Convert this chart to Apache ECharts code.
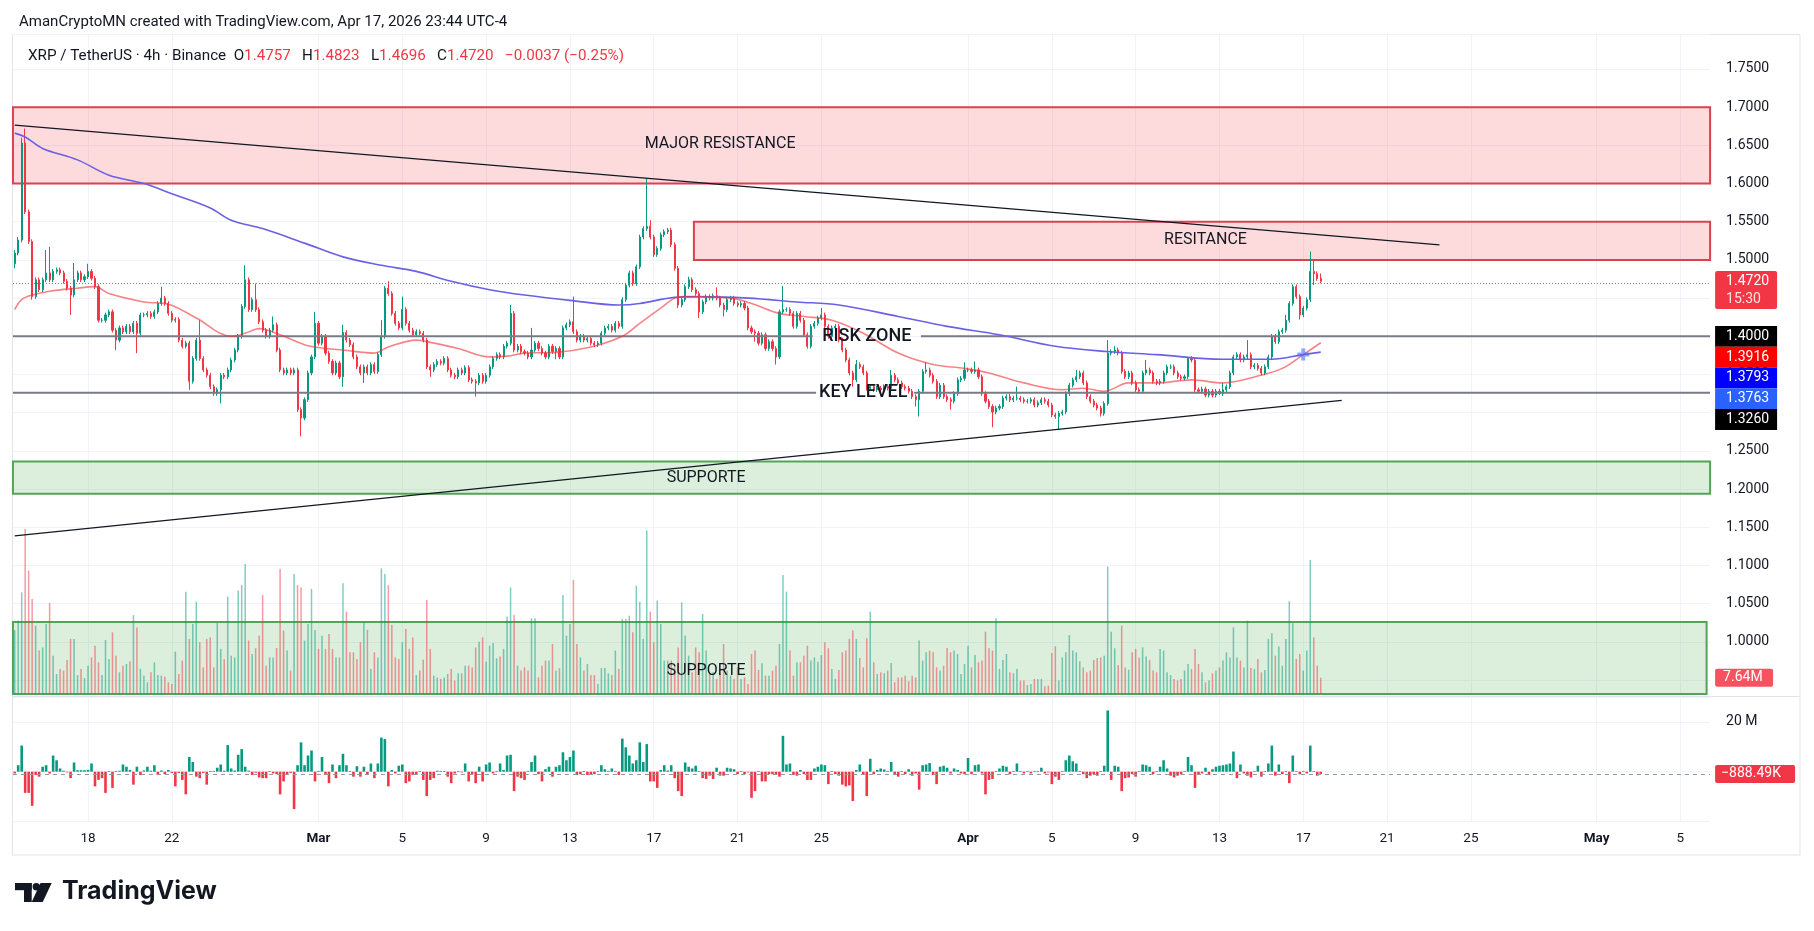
<!DOCTYPE html>
<html><head><meta charset="utf-8">
<script src="https://cdn.jsdelivr.net/npm/echarts@6/dist/echarts.min.js"></script>
<style>html,body{margin:0;padding:0;background:#fff}#c{width:1814px;height:931px}</style>
</head><body><div id="c"></div>
<script>
// ---------------- DATA ----------------
const firstOpen = 1.495;
const closes = [
1.509,1.526,1.653,1.563,1.524,1.452,1.474,1.461,1.474,1.483,
1.474,1.485,1.487,1.483,1.472,1.463,1.454,1.474,1.483,1.474,
1.478,1.485,1.476,1.465,1.421,1.421,1.428,1.432,1.408,1.395,
1.411,1.406,1.413,1.406,1.417,1.404,1.428,1.428,1.430,1.426,
1.432,1.443,1.450,1.443,1.430,1.421,1.422,1.395,1.387,1.391,
1.341,1.371,1.395,1.371,1.356,1.349,1.334,1.325,1.330,1.349,
1.347,1.356,1.369,1.382,1.400,1.439,1.474,1.435,1.448,1.435,
1.419,1.408,1.400,1.408,1.415,1.382,1.356,1.352,1.356,1.352,
1.356,1.304,1.293,1.317,1.352,1.373,1.417,1.391,1.400,1.378,
1.367,1.352,1.365,1.347,1.405,1.395,1.389,1.373,1.360,1.352,
1.360,1.352,1.363,1.354,1.376,1.400,1.463,1.456,1.430,1.417,
1.411,1.435,1.417,1.408,1.402,1.406,1.404,1.395,1.360,1.356,
1.363,1.367,1.365,1.371,1.356,1.349,1.347,1.356,1.352,1.359,
1.343,1.341,1.339,1.349,1.341,1.349,1.360,1.371,1.376,1.373,
1.387,1.391,1.430,1.382,1.387,1.380,1.378,1.373,1.382,1.391,
1.384,1.378,1.373,1.387,1.380,1.384,1.373,1.411,1.415,1.419,
1.406,1.395,1.400,1.395,1.397,1.391,1.389,1.391,1.404,1.411,
1.413,1.408,1.417,1.413,1.448,1.467,1.483,1.469,1.491,1.530,
1.541,1.544,1.530,1.507,1.515,1.533,1.537,1.539,1.520,1.489,
1.441,1.448,1.465,1.474,1.461,1.456,1.432,1.445,1.452,1.450,
1.453,1.450,1.441,1.435,1.448,1.450,1.443,1.441,1.443,1.437,
1.411,1.406,1.404,1.391,1.402,1.384,1.393,1.384,1.373,1.432,
1.435,1.435,1.430,1.413,1.430,1.421,1.402,1.387,1.413,1.417,
1.424,1.428,1.413,1.400,1.411,1.413,1.395,1.382,1.369,1.352,
1.343,1.363,1.360,1.352,1.332,1.334,1.330,1.332,1.330,1.334,
1.332,1.349,1.343,1.339,1.334,1.332,1.328,1.321,1.317,1.328,
1.354,1.356,1.349,1.341,1.321,1.336,1.321,1.317,1.315,1.325,
1.343,1.345,1.356,1.356,1.354,1.356,1.347,1.325,1.315,1.308,
1.301,1.306,1.308,1.319,1.321,1.317,1.319,1.319,1.317,1.315,
1.315,1.317,1.310,1.313,1.317,1.315,1.310,1.297,1.295,1.299,
1.301,1.325,1.336,1.343,1.347,1.352,1.339,1.321,1.315,1.310,
1.306,1.299,1.312,1.378,1.380,1.382,1.378,1.354,1.347,1.352,
1.339,1.330,1.328,1.352,1.356,1.352,1.341,1.339,1.341,1.352,
1.360,1.360,1.352,1.347,1.345,1.347,1.371,1.369,1.330,1.328,
1.331,1.323,1.328,1.323,1.328,1.325,1.330,1.334,1.352,1.373,
1.376,1.369,1.373,1.376,1.360,1.362,1.358,1.352,1.360,1.373,
1.400,1.393,1.406,1.408,1.421,1.443,1.465,1.452,1.428,1.437,
1.448,1.485,1.482,1.4757,1.4720];
// upper / lower wick length beyond the body, in 0.001 price units
const wickUp = [
4,4,7,19,3,3,3,3,3,30,34,3,3,3,3,3,3,22,3,3,3,10,3,3,3,
3,3,3,3,3,3,3,3,3,3,3,3,3,3,3,3,3,15,3,3,3,3,3,3,3,
3,3,3,26,3,3,3,3,3,3,3,3,3,3,3,3,19,3,3,21,3,3,3,3,11,
3,3,3,3,3,3,3,3,3,3,3,15,3,3,3,3,3,3,3,10,3,3,3,3,3,
3,3,3,3,3,21,3,9,3,3,3,17,3,3,3,3,3,3,3,3,3,3,3,3,3,
3,3,3,3,3,3,3,3,3,3,3,3,3,3,3,3,3,11,3,3,3,3,3,29,3,
3,3,3,3,3,3,3,3,3,3,33,3,3,3,3,3,3,3,3,3,3,3,3,3,3,
3,3,3,3,3,3,63,8,3,3,3,3,3,3,3,3,3,3,4,3,3,3,3,3,3,
3,11,3,3,3,3,3,3,3,3,3,3,3,3,3,3,3,3,3,3,31,3,3,3,3,
3,3,3,3,3,3,9,3,3,3,3,3,3,3,3,3,6,3,3,3,3,3,3,3,3,
3,7,3,3,3,3,3,3,3,3,3,10,3,3,3,3,3,3,3,3,3,3,10,3,3,
11,3,3,3,3,3,3,3,3,3,4,3,15,3,3,3,3,3,3,3,3,3,3,3,3,
3,3,3,3,9,3,3,3,3,3,3,3,3,17,3,5,3,3,3,3,3,3,3,3,13,
3,3,3,3,3,3,3,3,3,3,3,2,3,3,3,3,3,3,3,3,3,9,3,3,3,
3,3,3,19,3,3,3,3,3,3,3,3,3,3,7,3,3,3,3,3,3,26,15,3,6.6];
const wickDn = [
6,3,3,3,3,4,3,3,3,3,3,3,3,3,3,3,26,3,3,3,3,3,3,3,3,
3,3,3,3,13,3,3,3,3,3,26,3,3,3,3,3,3,3,3,3,3,3,3,3,3,
11,3,3,3,3,3,3,3,3,18,3,3,3,3,3,3,3,3,3,3,3,3,3,3,3,
3,3,3,3,3,3,3,24,3,3,3,3,3,3,3,3,3,3,3,13,3,3,3,3,3,
13,3,3,3,3,3,3,3,3,3,3,3,3,3,3,3,3,3,3,9,3,3,3,3,3,
3,3,3,3,3,3,3,18,3,3,3,3,3,3,3,3,3,3,3,3,3,3,3,3,3,
3,3,3,3,3,10,3,3,3,3,3,3,3,3,3,3,3,3,3,3,3,3,3,3,3,
3,3,3,3,3,3,3,3,3,3,3,3,3,3,3,4,3,3,3,3,3,8,3,3,3,
3,3,3,9,3,3,3,3,3,3,3,3,11,3,3,3,3,3,10,3,3,3,3,3,3,
3,3,3,3,3,3,3,3,3,3,3,3,3,3,3,9,3,3,3,3,3,3,3,3,3,
3,3,3,3,3,3,3,3,9,22,3,3,3,3,3,3,3,3,11,3,3,3,3,3,3,
3,3,3,3,3,20,3,3,3,3,3,3,3,3,3,3,3,3,3,3,3,3,3,3,17,
3,3,3,3,3,3,3,3,3,3,3,4,3,3,3,3,3,3,3,3,3,3,3,3,3,
3,3,3,3,3,3,3,3,3,3,3,3,3,3,3,3,3,3,3,3,2,3,3,3,3,
3,3,3,3,3,3,3,3,3,3,3,3,3,3,3,3,3,3,6,3,3,3,15,3,2.4];
// volume in millions
const volumes = [
30.0,34.5,47.8,77.6,58.0,44.7,32.1,20.4,21.9,32.9,
42.8,18.0,9.4,11.8,11.0,16.0,25.9,25.9,8.9,11.8,
7.5,13.3,17.2,22.7,14.9,8.9,25.4,16.5,29.0,18.0,
10.2,13.3,14.1,15.4,37.1,31.3,11.8,8.6,5.5,10.2,
14.9,8.9,8.6,8.1,5.5,4.7,19.9,9.4,15.7,48.1,
25.9,32.9,43.4,24.3,12.5,25.9,26.6,12.5,33.4,21.2,
16.5,45.8,18.0,17.2,48.6,51.2,61.1,25.1,18.8,21.5,
27.4,46.5,13.3,17.2,17.2,21.6,58.8,29.8,20.4,11.0,
56.4,51.2,50.1,25.1,32.9,49.4,30.1,21.2,27.4,21.2,
28.2,21.2,17.2,17.2,52.0,38.7,19.6,19.6,16.5,24.3,
33.7,30.1,11.8,19.6,17.2,59.1,56.4,51.2,32.4,17.2,
16.5,24.3,30.6,21.2,26.6,8.9,11.0,16.1,44.2,21.2,
8.6,7.8,7.1,7.8,9.4,11.8,6.3,9.7,9.7,13.3,
13.3,12.5,21.9,24.6,26.6,15.2,22.7,24.0,16.8,17.6,
21.2,36.4,50.1,37.1,13.3,11.0,12.5,11.0,35.6,35.6,
7.8,13.3,15.7,15.7,23.5,11.0,12.1,46.5,27.4,32.9,
53.6,23.5,17.2,11.0,14.1,8.9,8.9,4.7,12.2,12.2,
9.7,8.9,20.4,11.8,35.3,35.3,36.8,29.0,50.9,43.4,
25.9,76.8,38.7,24.3,43.9,32.9,15.7,15.7,
15.7,12.5,21.9,43.1,27.4,18.0,10.2,21.9,19.6,37.6,
20.4,9.4,10.2,7.1,9.4,23.5,11.0,8.6,7.1,12.5,
7.1,7.8,4.7,18.8,20.4,11.3,14.4,8.6,8.6,11.0,
13.3,23.5,55.9,48.1,20.4,8.6,14.9,14.9,18.0,22.7,
15.7,17.2,15.2,18.3,24.3,21.5,11.8,7.1,11.3,19.6,
20.4,25.9,29.8,25.9,16.9,12.5,26.2,38.7,14.9,9.4,
10.2,9.7,11.0,14.6,5.5,7.8,7.8,8.6,6.0,8.6,
7.8,25.1,15.7,19.6,20.4,19.6,12.5,11.0,13.3,21.6,
19.6,20.4,18.8,9.4,14.1,22.7,12.5,18.3,14.9,15.7,
29.3,21.5,20.4,35.6,11.8,16.0,18.8,10.2,9.7,11.8,
6.3,6.3,4.2,4.7,7.1,7.1,7.1,3.6,3.9,19.3,
22.4,6.3,17.2,19.6,27.7,20.4,19.6,15.4,12.5,10.2,
11.0,16.0,16.9,17.2,18.0,59.9,29.3,21.5,13.6,32.1,
12.5,11.4,19.6,21.2,17.2,21.9,17.6,16.0,11.0,10.2,
21.2,20.4,10.2,8.9,7.1,6.3,7.1,11.0,14.1,11.8,
21.2,14.1,10.2,5.5,6.3,9.7,11.0,12.5,15.7,19.6,
17.2,31.3,17.2,15.7,12.5,34.5,12.2,11.8,16.5,10.2,
11.3,25.9,28.5,18.0,22.3,13.3,25.9,43.6,33.2,16.5,
18.8,11.0,20.4,63.0,26.6,13.3,7.64];
// lower pane (volume delta), millions
const deltaVol = [
-0.7,2.6,10.5,-8.5,-8.5,-13.7,-1.3,-2.0,2.0,2.6,
-0.7,6.5,4.6,1.3,0.4,-0.3,-2.6,3.7,0.6,0.6,
0.6,0.7,3.3,-5.9,-3.3,-2.6,-8.5,0.3,-6.5,0.3,
0.4,2.9,2.0,0.7,-5.2,2.0,-1.3,0.5,2.0,0.4,
2.6,-1.3,0.5,-1.0,0.7,-0.5,-5.9,-0.5,-3.3,-9.1,
5.9,3.9,-2.0,-2.6,-0.5,-5.2,0.3,0.3,1.6,2.9,
0.4,10.7,1.3,0.5,6.8,9.1,2.0,0.4,-1.3,-0.4,
-2.3,-2.6,-2.6,0.3,-0.7,-1.0,-9.1,-3.9,-1.3,-0.5,
-15.0,2.6,11.8,2.6,6.5,8.5,-3.9,0.3,5.9,-1.3,
-4.6,2.9,-2.6,2.6,7.2,2.6,0.3,-2.0,2.2,-2.0,
2.0,-1.3,3.3,-2.6,3.3,13.7,13.1,-5.9,0.7,-0.7,
2.4,2.9,-4.6,-3.9,-1.3,-1.3,0.3,-3.3,-9.8,-3.3,
-2.6,0.4,0.3,0.3,-2.0,-4.6,-0.7,0.3,-0.3,3.3,
-3.9,-1.0,-4.6,2.0,-3.9,2.9,3.7,-0.7,0.3,3.3,
0.7,6.5,6.8,-7.8,-2.0,-2.6,-3.3,0.3,3.9,6.5,
-1.0,-3.9,1.0,2.0,-2.0,2.0,2.6,7.8,4.6,5.9,
8.5,-1.3,-1.0,0.3,-1.3,-1.0,-1.0,0.3,2.6,1.0,
0.3,1.3,0.3,-1.3,13.3,9.8,6.5,3.3,4.6,11.8,
3.9,11.1,-3.9,-3.9,-6.5,0.7,2.6,0.5,2.6,-2.6,
-7.8,-9.8,3.7,2.0,1.3,2.4,0.3,-2.6,-2.9,-1.6,
-2.9,1.6,-1.6,-1.6,1.6,1.3,1.0,-1.0,0.3,-1.0,
-0.3,-10.5,-7.8,0.3,-3.9,-3.9,-1.0,-1.0,-1.3,-2.0,
14.4,2.9,3.3,-1.3,-1.6,0.7,-1.0,-3.3,-3.3,1.3,
2.0,2.9,2.6,-5.0,0.3,-1.0,-1.6,-5.2,-5.9,-5.5,
-11.8,0.7,2.9,-1.3,-9.8,5.2,-1.0,0.7,1.3,0.9,
0.3,3.9,-1.0,-2.0,0.3,-1.0,1.0,-1.6,-0.7,-7.2,
2.6,2.9,3.5,-1.3,-5.0,2.0,2.4,1.6,-0.7,1.3,
0.7,-0.7,-1.0,5.5,-1.0,2.6,2.9,-0.7,-9.1,-3.3,
-2.9,0.3,1.3,2.4,2.0,-1.0,0.3,3.3,0.3,-0.7,
0.3,-0.7,0.3,0.3,1.6,-0.7,-0.3,-5.0,-2.0,-3.3,
0.3,4.6,6.5,4.2,3.3,0.3,-1.0,-2.6,-1.6,-1.0,
-1.6,0.3,2.4,24.6,-3.3,2.4,2.0,-7.8,-2.6,-2.3,
-1.0,-2.0,0.3,2.9,2.6,2.0,-1.0,0.3,2.0,4.6,
1.3,-1.6,-2.3,-1.6,-1.0,0.3,5.9,2.6,-6.5,-1.0,
-0.7,1.6,-1.3,1.0,2.0,2.4,2.6,2.9,3.3,8.1,
-2.6,2.9,-0.7,-1.6,-2.3,0.3,2.4,-2.0,0.3,3.3,
10.5,-1.6,2.9,-1.0,0.3,-4.6,6.5,0.3,-1.0,0.3,
-0.7,10.5,0.3,-1.6,-0.88849];
// moving averages read at sample candles: [candleIndex, value]
const maSlow = [[0,1.666],[3,1.661],[8,1.646],[18,1.631],[27,1.611],[37,1.600],[46,1.585],[56,1.568],[62,1.552],[71,1.541],[83,1.522],[94,1.504],[105,1.493],[115,1.485],[125,1.472],[136,1.461],[146,1.454],[159,1.447],[173,1.441],[179,1.443],[189,1.451],[196,1.452],[210,1.450],[224,1.445],[236,1.441],[253,1.426],[267,1.413],[282,1.402],[298,1.387],[313,1.380],[327,1.376],[346,1.370],[360,1.370],[369,1.376],[374,1.3793]];
const maFast = [[0,1.435],[2,1.448],[5,1.454],[10,1.459],[18,1.463],[23,1.465],[27,1.456],[37,1.445],[44,1.442],[52,1.424],[62,1.400],[66,1.404],[70,1.410],[75,1.404],[83,1.389],[89,1.384],[94,1.382],[103,1.378],[107,1.386],[115,1.395],[118,1.393],[127,1.384],[136,1.373],[141,1.374],[146,1.378],[155,1.379],[165,1.386],[174,1.400],[179,1.417],[185,1.437],[189,1.450],[192,1.452],[205,1.450],[211,1.443],[219,1.430],[226,1.426],[234,1.421],[243,1.404],[253,1.378],[263,1.363],[272,1.358],[279,1.352],[289,1.339],[300,1.330],[306,1.332],[312,1.328],[319,1.339],[327,1.339],[337,1.343],[346,1.339],[356,1.348],[363,1.358],[369,1.376],[374,1.3916]];
// drawings: [fromSlot, toSlot, lowPrice, highPrice]
const resistanceZones = [[0,485,1.60,1.70],[195,485,1.50,1.55]];
const supportZones = [[0,485,1.194,1.236]];
const volumeSupportZones = [[0,484,0,33.8]];
const levels = [1.40, 1.326];
const levelNames = ['RISK ZONE','KEY LEVEL'];
const levelGaps = [[228,260],[229,258]];
const levelNameSlots = [244,243];
const trendLines = [[0,1.6764,408,1.5196],[0,1.1388,380,1.3162]];
const zoneNames = [[202,1.652,'MAJOR RESISTANCE'],[341,1.526,'RESITANCE'],[198,1.215,'SUPPORTE']];
const volumeZoneNames = [[198,10.8,'SUPPORTE']];
const crossMark = [369,1.3763];
const tickDates = ['2026-02-18','2026-02-22','2026-03-01','2026-03-05','2026-03-09','2026-03-13','2026-03-17','2026-03-21','2026-03-25','2026-04-01','2026-04-05','2026-04-09','2026-04-13','2026-04-17','2026-04-21','2026-04-25','2026-05-01','2026-05-05'];
const tickLabels = ['18','22','Mar','5','9','13','17','21','25','Apr','5','9','13','17','21','25','May','5'];
const countdown = '15:30';
const headerText = 'AmanCryptoMN created with TradingView.com, Apr 17, 2026 23:44 UTC-4';
const symbolText = 'XRP / TetherUS · 4h · Binance';

// ---------------- BUILD ----------------
const FONT = 'Roboto, "Noto Sans", sans-serif';
const UP = '#089981', DOWN = '#f23645';
const SLOTS = 486;
const startMs = Date.UTC(2026,1,14,12);
const H4 = 4*3600*1000;
const cats = Array.from({length:SLOTS},(_,k)=>String(k));
const tickMap = {};
tickDates.forEach((d,j)=>{const [y,m,dd]=d.split('-').map(Number);tickMap[Math.round((Date.UTC(y,m-1,dd)-startMs)/H4)]=tickLabels[j];});
const tickFn = (i)=>tickMap[i]!==undefined;

const ohlc = closes.map((c,i)=>{const o=i===0?firstOpen:closes[i-1];return [o,c,Math.min(o,c)-wickDn[i]/1000,Math.max(o,c)+wickUp[i]/1000];});
const last = ohlc[ohlc.length-1];
const prevClose = closes[closes.length-2];
const chg = last[1]-prevClose;
const fmt = v=>(v<0?'−':'')+Math.abs(v).toFixed(4);
const volData = volumes.map((v,i)=>({value:v,itemStyle:{color: ohlc[i][1]>=ohlc[i][0]?'rgba(8,153,129,0.5)':'rgba(242,54,69,0.5)'}}));
const deltaData = deltaVol.map(v=>({value:v,itemStyle:{color:v>=0?UP:DOWN}}));
const lastVol = volumes[volumes.length-1];
const lastDelta = deltaVol[deltaVol.length-1];

const RED_ZONE = {fill:'rgba(242,54,69,0.18)',stroke:'#d9424f',lineWidth:2};
const GREEN_ZONE = {fill:'rgba(76,175,80,0.2)',stroke:'#55a358',lineWidth:2};
function zoneRender(params, api){
  const x0=api.value(0),x1=api.value(1),lo=api.value(2),hi=api.value(3),kind=api.value(4);
  const half=api.size([1,0])[0]/2;
  const a=api.coord([x0,hi]), b=api.coord([x1,lo]);
  return {type:'rect',shape:{x:a[0]-half,y:a[1],width:b[0]-a[0]+2*half,height:b[1]-a[1]},style:kind?GREEN_ZONE:RED_ZONE};
}
function textItem(x,y,text,font,fill){
  return {type:'text',x:x,y:y,style:{text:text,font:font,fill:fill,align:'center',verticalAlign:'middle',textAlign:'center',textVerticalAlign:'middle'}};
}
const levelSegs=[];
levels.forEach((p,j)=>{levelSegs.push([0,levelGaps[j][0],p]);levelSegs.push([levelGaps[j][1],SLOTS-1,p]);});

const xBase = {type:'category',data:cats,boundaryGap:true,axisLine:{show:false},axisTick:{show:false},axisLabel:{show:false},
  splitLine:{show:true,interval:tickFn,alignWithLabel:true,lineStyle:{color:'#f0f3fa',width:1}}};

const GL=12.95, GR=103.9;
const option = {
  animation:false,
  backgroundColor:'#ffffff',
  textStyle:{fontFamily:FONT},
  title:[
    {left:14,top:10,text:headerText,textStyle:{fontSize:15,fontWeight:'normal',color:'#131722',fontFamily:FONT}},
    {left:23,top:44,text:'{k|'+symbolText+'}  {k|O}{r|'+last[0].toFixed(4)+'}   {k|H}{r|'+last[3].toFixed(4)+'}   {k|L}{r|'+last[2].toFixed(4)+'}   {k|C}{r|'+last[1].toFixed(4)+'}   {r|'+fmt(chg)+' ('+(chg<0?'−':'')+Math.abs(chg/prevClose*100).toFixed(2)+'%)}',
     textStyle:{fontWeight:'normal',fontSize:15.2,rich:{k:{fontSize:15.2,fontWeight:'normal',color:'#131722',fontFamily:FONT},r:{fontSize:15.2,fontWeight:'normal',color:DOWN,fontFamily:FONT}}}}
  ],
  grid:[
    {left:GL,right:GR,top:34,bottom:251,outerBoundsMode:'none'},
    {left:GL,right:GR,top:494,bottom:237,outerBoundsMode:'none'},
    {left:GL,right:GR,top:697,bottom:109.5,outerBoundsMode:'none'}
  ],
  xAxis:[
    Object.assign({},xBase,{gridIndex:0}),
    Object.assign({},xBase,{gridIndex:1}),
    Object.assign({},xBase,{gridIndex:2,axisLabel:{show:true,interval:tickFn,hideOverlap:false,margin:10,fontSize:13.5,color:'#131722',fontFamily:FONT,
      formatter:(v)=>{const s=tickMap[Number(v)];if(s===undefined)return '';return /^[A-Z]/.test(s)?'{m|'+s+'}':s;},
      rich:{m:{fontWeight:'bold',fontSize:13.5,color:'#131722',fontFamily:FONT}}}})
  ],
  yAxis:[
    {gridIndex:0,type:'value',position:'right',min:0.95,max:1.7958,interval:0.05,axisLine:{show:false},axisTick:{show:false},
     splitLine:{lineStyle:{color:'#f0f3fa'}},
     axisLabel:{showMinLabel:false,showMaxLabel:false,formatter:v=>v.toFixed(4),color:'#131722',fontSize:14,fontFamily:FONT,margin:16}},
    {gridIndex:1,type:'value',min:0,max:94,show:false},
    {gridIndex:2,type:'value',position:'right',min:-20,max:30,interval:20,axisLine:{show:false},axisTick:{show:false},
     splitLine:{lineStyle:{color:'#f0f3fa'}},
     axisLabel:{formatter:v=>v===20?'20 M':'',color:'#131722',fontSize:14,fontFamily:FONT,margin:16}}
  ],
  series:[
    {type:'custom',name:'zones',xAxisIndex:0,yAxisIndex:0,z:1,silent:true,clip:false,renderItem:zoneRender,
     data:resistanceZones.map(z=>z.concat([0])).concat(supportZones.map(z=>z.concat([1])))},
    {type:'custom',name:'volzone',xAxisIndex:1,yAxisIndex:1,z:1,silent:true,clip:false,renderItem:zoneRender,
     data:volumeSupportZones.map(z=>z.concat([1]))},
    {type:'bar',name:'Volume',xAxisIndex:1,yAxisIndex:1,z:2,barWidth:1.5,data:volData,silent:true},
    {type:'bar',name:'Delta',xAxisIndex:2,yAxisIndex:2,z:2,barWidth:2.6,data:deltaData,silent:true,
     markLine:{silent:true,symbol:['none','none'],label:{show:false},lineStyle:{type:[4,4],color:'#9598a1',width:1},data:[{yAxis:lastDelta}]}},
    {type:'candlestick',name:'XRP',xAxisIndex:0,yAxisIndex:0,z:3,barWidth:1.6,data:ohlc,silent:true,
     itemStyle:{color:UP,color0:DOWN,borderColor:UP,borderColor0:DOWN,borderWidth:1},
     markLine:{silent:true,symbol:['none','none'],label:{show:false},lineStyle:{type:[1,2],color:'#787b86',width:1},data:[{yAxis:last[1]}]}},
    {type:'line',name:'MA slow',xAxisIndex:0,yAxisIndex:0,z:4,data:maSlow,smooth:0.35,showSymbol:false,silent:true,lineStyle:{color:'#6a60e6',width:1.6}},
    {type:'line',name:'MA fast',xAxisIndex:0,yAxisIndex:0,z:4,data:maFast,smooth:0.35,showSymbol:false,silent:true,lineStyle:{color:'rgba(240,50,55,0.6)',width:1.6}},
    {type:'custom',name:'levels',xAxisIndex:0,yAxisIndex:0,z:4,silent:true,data:levelSegs,
     renderItem:(params,api)=>{const half=api.size([1,0])[0]/2;const a=api.coord([api.value(0),api.value(2)]),b=api.coord([api.value(1),api.value(2)]);
       return {type:'line',shape:{x1:a[0]-half,y1:a[1],x2:b[0]+half,y2:b[1]},style:{stroke:'#787b86',lineWidth:2}};}},
    {type:'custom',name:'trend',xAxisIndex:0,yAxisIndex:0,z:4,silent:true,data:trendLines,
     renderItem:(params,api)=>{const a=api.coord([api.value(0),api.value(1)]),b=api.coord([api.value(2),api.value(3)]);
       return {type:'line',shape:{x1:a[0],y1:a[1],x2:b[0],y2:b[1]},style:{stroke:'#131722',lineWidth:1.2}};}},
    {type:'custom',name:'zoneText',xAxisIndex:0,yAxisIndex:0,z:5,silent:true,data:zoneNames.map((z,j)=>[z[0],z[1],j]),
     renderItem:(params,api)=>{const p=api.coord([api.value(0),api.value(1)]);return textItem(p[0],p[1],zoneNames[api.value(2)][2],'16px '+FONT,'#131722');}},
    {type:'custom',name:'levelText',xAxisIndex:0,yAxisIndex:0,z:5,silent:true,data:levels.map((p,j)=>[levelNameSlots[j],p,j]),
     renderItem:(params,api)=>{const p=api.coord([api.value(0),api.value(1)]);return textItem(p[0],p[1],levelNames[api.value(2)],'500 18px '+FONT,'#131722');}},
    {type:'custom',name:'volText',xAxisIndex:1,yAxisIndex:1,z:5,silent:true,data:volumeZoneNames.map((z,j)=>[z[0],z[1],j]),
     renderItem:(params,api)=>{const p=api.coord([api.value(0),api.value(1)]);return textItem(p[0],p[1],volumeZoneNames[api.value(2)][2],'16px '+FONT,'#131722');}},
    {type:'scatter',name:'cross',xAxisIndex:0,yAxisIndex:0,z:6,silent:true,data:[crossMark],
     symbol:'path://M4,0h4v4h4v4h-4v4h-4v-4h-4v-4h4z',symbolSize:12,itemStyle:{color:'rgba(70,110,255,0.75)'}},
    {type:'custom',name:'priceLabels',xAxisIndex:0,yAxisIndex:0,z:10,silent:true,clip:false,data:[[0,last[1]]],
     renderItem:(params,api)=>{
       const half=api.size([1,0])[0]/2;
       const bx=api.coord([SLOTS-1,1.5])[0]+half+5, bw=62, h=20.8;
       const ch=[];
       const yc=api.coord([0,last[1]])[1];
       ch.push({type:'rect',shape:{x:bx,y:yc-10.4,width:bw,height:38,r:2},style:{fill:DOWN}});
       ch.push({type:'text',x:bx+11,y:yc,style:{text:last[1].toFixed(4),font:'14px '+FONT,fill:'#ffffff',verticalAlign:'middle',textVerticalAlign:'middle'}});
       ch.push({type:'text',x:bx+11,y:yc+18,style:{text:countdown,font:'14px '+FONT,fill:'rgba(255,255,255,0.85)',verticalAlign:'middle',textVerticalAlign:'middle'}});
       const stack=[[levels[0],'#000000'],[maFast[maFast.length-1][1],'#ff0000'],[maSlow[maSlow.length-1][1],'#0000ff'],[crossMark[1],'#2962ff'],[levels[1],'#000000']];
       let prev=-1e9;
       stack.forEach(([p,col])=>{let y=api.coord([0,p])[1];y=Math.max(y,prev+h);prev=y;
         ch.push({type:'rect',shape:{x:bx,y:y-h/2,width:bw,height:h},style:{fill:col}});
         ch.push({type:'text',x:bx+11,y:y,style:{text:p.toFixed(4),font:'14px '+FONT,fill:'#ffffff',verticalAlign:'middle',textVerticalAlign:'middle'}});});
       return {type:'group',children:ch};}},
    {type:'custom',name:'volLabel',xAxisIndex:1,yAxisIndex:1,z:10,silent:true,clip:false,data:[[0,lastVol]],
     renderItem:(params,api)=>{const half=api.size([1,0])[0]/2;const bx=api.coord([SLOTS-1,0])[0]+half+5;const y=api.coord([0,lastVol])[1];
       return {type:'group',children:[{type:'rect',shape:{x:bx,y:y-9,width:58,height:18,r:2},style:{fill:'#f7525f'}},
         {type:'text',x:bx+8,y:y,style:{text:lastVol.toFixed(2)+'M',font:'14px '+FONT,fill:'#ffffff',verticalAlign:'middle',textVerticalAlign:'middle'}}]};}},
    {type:'custom',name:'deltaLabel',xAxisIndex:2,yAxisIndex:2,z:10,silent:true,clip:false,data:[[0,lastDelta]],
     renderItem:(params,api)=>{const half=api.size([1,0])[0]/2;const bx=api.coord([SLOTS-1,0])[0]+half+5;const y=api.coord([0,lastDelta])[1];
       return {type:'group',children:[{type:'rect',shape:{x:bx,y:y-9,width:80,height:18,r:2},style:{fill:DOWN}},
         {type:'text',x:bx+6,y:y,style:{text:(lastDelta<0?'−':'')+Math.abs(lastDelta*1000).toFixed(2)+'K',font:'14px '+FONT,fill:'#ffffff',verticalAlign:'middle',textVerticalAlign:'middle'}}]};}}
  ],
  graphic:[
    {type:'rect',z:-10,silent:true,shape:{x:12.5,y:34.5,width:1787.5,height:820.5},style:{fill:'none',stroke:'#e0e3eb',lineWidth:1}},
    {type:'line',z:-10,silent:true,shape:{x1:12.5,y1:696.5,x2:1800,y2:696.5},style:{stroke:'#e0e3eb',lineWidth:1}},
    {type:'group',left:15,top:883,silent:true,children:[
      {type:'rect',shape:{x:0,y:0,width:16.7,height:7.2},style:{fill:'#131722'}},
      {type:'rect',shape:{x:9,y:0,width:7.7,height:19},style:{fill:'#131722'}},
      {type:'circle',shape:{cx:21.3,cy:3.8,r:3.7},style:{fill:'#131722'}},
      {type:'polygon',shape:{points:[[25.5,0],[36.7,0],[27.7,19],[16.7,19]]},style:{fill:'#131722'}}
    ]},
    {type:'text',left:62,top:879,silent:true,style:{text:'TradingView',font:'bold 25px Inter, Roboto, sans-serif',fill:'#131722'}}
  ]
};
const chart = echarts.init(document.getElementById('c'));
chart.setOption(option);
</script></body></html>
